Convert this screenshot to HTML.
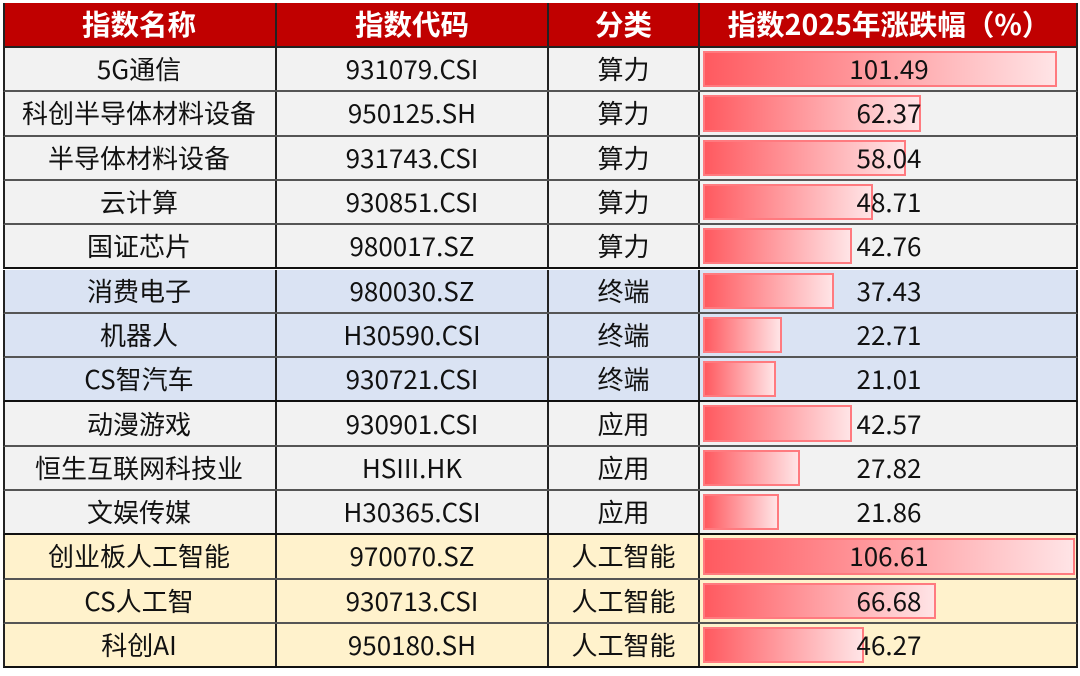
<!DOCTYPE html>
<html><head><meta charset="utf-8"><style>
body{margin:0;width:1080px;height:676px;background:#fff;overflow:hidden;font-family:"Noto Sans CJK SC","Liberation Sans",sans-serif}
#t{position:absolute;left:3px;top:3px;width:1075px}
.row{position:absolute;left:0;width:1075px;border-bottom:2px solid #555;box-sizing:border-box;border-left:2px solid #222;border-right:2px solid #222}
.c{position:absolute;top:0;height:100%;display:flex;align-items:center;justify-content:center;font-size:26px;line-height:1;color:#111;box-sizing:border-box;border-left:2px solid #222;white-space:nowrap}
.h .c{color:#fff;font-weight:bold;font-size:28.5px}
.bar{position:absolute;left:3px;border:2px solid #ff7a7f;box-sizing:border-box;background:linear-gradient(to right,#ff5a60,#ffe4e6)}
.val{position:relative;z-index:1}
</style></head><body>
<div id="t"></div>
<script>
const names=["5G通信","科创半导体材料设备","半导体材料设备","云计算","国证芯片","消费电子","机器人","CS智汽车","动漫游戏","恒生互联网科技业","文娱传媒","创业板人工智能","CS人工智","科创AI"];
const codes=["931079.CSI","950125.SH","931743.CSI","930851.CSI","980017.SZ","980030.SZ","H30590.CSI","930721.CSI","930901.CSI","HSIII.HK","H30365.CSI","970070.SZ","930713.CSI","950180.SH"];
const cats=["算力","算力","算力","算力","算力","终端","终端","终端","应用","应用","应用","人工智能","人工智能","人工智能"];
const values=[101.49,62.37,58.04,48.71,42.76,37.43,22.71,21.01,42.57,27.82,21.86,106.61,66.68,46.27];
const headers=["指数名称","指数代码","分类","指数2025年涨跌幅（%）"];
const colX=[-2,270,542,693,1073];
const bg={"算力":"#f2f2f2","终端":"#dae3f3","应用":"#f2f2f2","人工智能":"#fff2cc"};
const maxV=106.61, barW=372;
function xScale(v){return v/maxV*barW;}
const t=document.getElementById('t');
function mkRow(top,h,cls,color,cells,idx){
  const r=document.createElement('div');r.className='row '+cls;
  r.style.top=top+'px';r.style.height=h+'px';r.style.background=color;
  
  
  cells.forEach((txt,i)=>{
    const c=document.createElement('div');c.className='c';
    c.style.left=colX[i]+'px';c.style.width=(colX[i+1]-colX[i])+'px';
    if(i==0)c.style.borderLeft='none';
    
    
    if(idx>=0&&i==3){
      const b=document.createElement('div');b.className='bar';
      b.style.top='3px';b.style.height=(h-8)+'px';b.style.width=xScale(values[idx])+'px';
      
      
      c.appendChild(b);
      const s=document.createElement('span');s.className='val';s.textContent=values[idx].toFixed(2);
      
      
      c.appendChild(s);
    } else c.textContent=txt;
    r.appendChild(c);
  });
  t.appendChild(r);return r;
}
const hr=mkRow(0,45,'h','#c00000',headers,-1);hr.style.borderBottom='2px solid #222';
const rowH=44.3;
names.forEach((n,i)=>{
  const r=mkRow(45+i*rowH,rowH,'',bg[cats[i]],[n,codes[i],cats[i],''],i);
  if(i==names.length-1||cats[i]!==cats[i+1])r.style.borderBottom='2px solid #111';
});
</script>
</body></html>
